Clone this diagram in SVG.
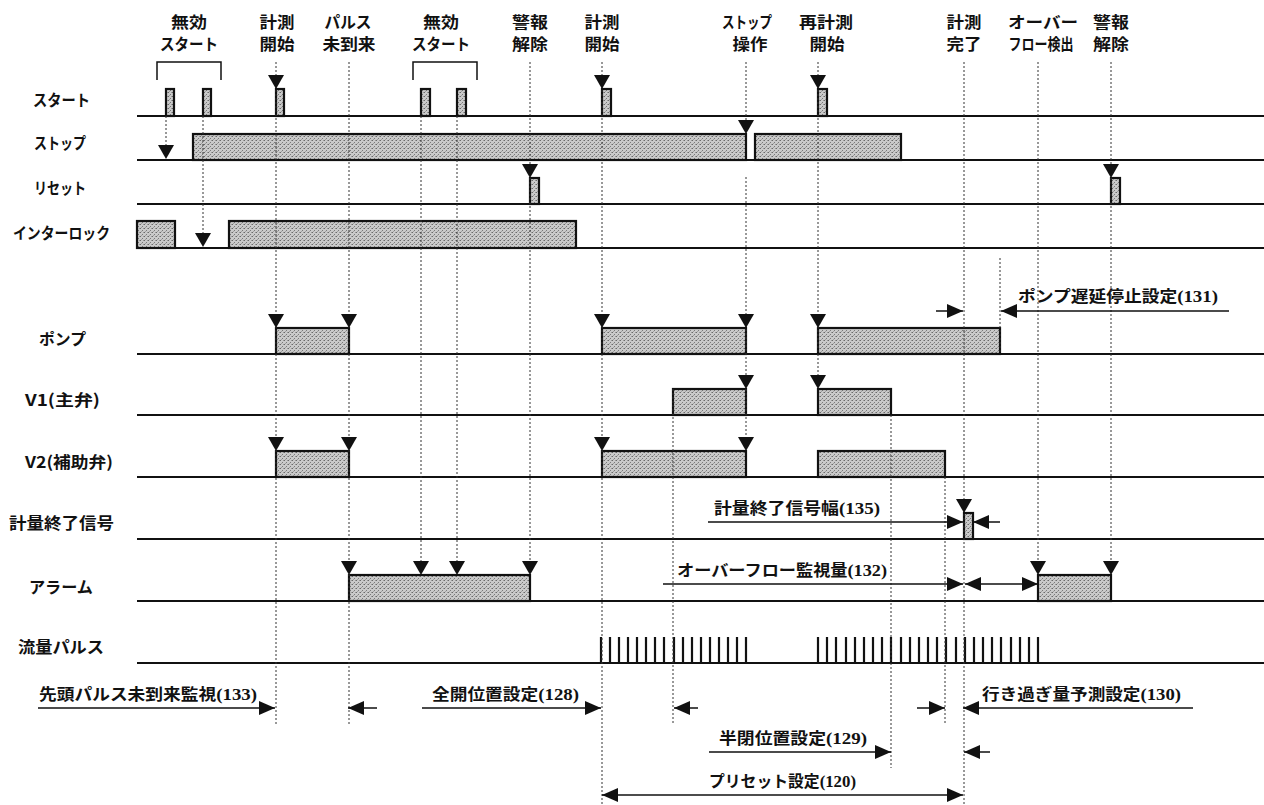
<svg xmlns="http://www.w3.org/2000/svg" xmlns:xlink="http://www.w3.org/1999/xlink" width="1264" height="805" viewBox="0 0 1264 805">
<style>
text { font-family: "Noto Sans CJK JP", "Noto Sans", sans-serif; font-weight: 700; fill: #111; }
.lbl { font-size: 16px; }
.top { font-size: 16px; text-anchor: middle; }
.ann { font-size: 16px; }
.num { font-family: "Liberation Serif", "Noto Sans CJK JP", serif; font-size: 17px; font-weight: 700; }
.base { stroke: #111; stroke-width: 2; fill: none; }
.bar { fill: url(#dots); stroke: #111; stroke-width: 2.2; }
.dot { stroke: #333; stroke-width: 1; stroke-dasharray: 2 2; fill: none; }
.ln { stroke: #111; stroke-width: 1.5; fill: none; }
.pl { stroke: #111; stroke-width: 2.2; fill: none; }
.ah { fill: #111; }
</style>
<defs>
<pattern id="dots" width="4" height="4" patternUnits="userSpaceOnUse">
<rect width="4" height="4" fill="#cacaca"/>
<rect x="0" y="0" width="1" height="1" fill="#6a6a6a"/>
<rect x="2" y="2" width="1" height="1" fill="#7a7a7a"/>
<rect x="3" y="0" width="1" height="1" fill="#999"/>
<rect x="1" y="3" width="1" height="1" fill="#a0a0a0"/>
</pattern>
<path id="ad" class="ah" d="M-8,-14 L8,-14 L0,0 Z"/>
<path id="ar" class="ah" d="M-16,-7 L0,0 L-16,7 Z"/>
<path id="al" class="ah" d="M16,-7 L0,0 L16,7 Z"/>
</defs>
<rect width="1264" height="805" fill="#fff"/>

<!-- event labels -->
<g id="ev-invalid-start-1"><text class="top" x="189" y="28" textLength="36" lengthAdjust="spacingAndGlyphs">無効</text><text class="top" x="189" y="50" textLength="58" lengthAdjust="spacingAndGlyphs">スタート</text>
<path class="ln" d="M157,80 V62 H221 V80"/></g>
<g id="ev-measure-start-1"><text class="top" x="277" y="28" textLength="35" lengthAdjust="spacingAndGlyphs">計測</text><text class="top" x="277" y="50" textLength="35" lengthAdjust="spacingAndGlyphs">開始</text></g>
<g id="ev-pulse-missing"><text class="top" x="348" y="28" textLength="47" lengthAdjust="spacingAndGlyphs">パルス</text><text class="top" x="349" y="50" textLength="53" lengthAdjust="spacingAndGlyphs">未到来</text></g>
<g id="ev-invalid-start-2"><text class="top" x="441" y="28" textLength="36" lengthAdjust="spacingAndGlyphs">無効</text><text class="top" x="441" y="50" textLength="58" lengthAdjust="spacingAndGlyphs">スタート</text>
<path class="ln" d="M413,80 V62 H477 V80"/></g>
<g id="ev-alarm-reset-1"><text class="top" x="530" y="28" textLength="36" lengthAdjust="spacingAndGlyphs">警報</text><text class="top" x="530" y="50" textLength="36" lengthAdjust="spacingAndGlyphs">解除</text></g>
<g id="ev-measure-start-2"><text class="top" x="602" y="28" textLength="35" lengthAdjust="spacingAndGlyphs">計測</text><text class="top" x="602" y="50" textLength="35" lengthAdjust="spacingAndGlyphs">開始</text></g>
<g id="ev-stop-op"><text class="top" x="747" y="28" textLength="50" lengthAdjust="spacingAndGlyphs">ストップ</text><text class="top" x="750" y="50" textLength="35" lengthAdjust="spacingAndGlyphs">操作</text></g>
<g id="ev-remeasure"><text class="top" x="826" y="28" textLength="54" lengthAdjust="spacingAndGlyphs">再計測</text><text class="top" x="827" y="50" textLength="35" lengthAdjust="spacingAndGlyphs">開始</text></g>
<g id="ev-measure-done"><text class="top" x="964" y="28" textLength="35" lengthAdjust="spacingAndGlyphs">計測</text><text class="top" x="964" y="50" textLength="35" lengthAdjust="spacingAndGlyphs">完了</text></g>
<g id="ev-overflow"><text class="top" x="1043" y="28" textLength="70" lengthAdjust="spacingAndGlyphs">オーバー</text><text class="top" x="1041" y="50" textLength="65" lengthAdjust="spacingAndGlyphs">フロー検出</text></g>
<g id="ev-alarm-reset-2"><text class="top" x="1111" y="28" textLength="36" lengthAdjust="spacingAndGlyphs">警報</text><text class="top" x="1111" y="50" textLength="36" lengthAdjust="spacingAndGlyphs">解除</text></g>

<!-- signal rows -->
<g id="sig-start">
<text class="lbl" x="33" y="106" textLength="57" lengthAdjust="spacingAndGlyphs">スタート</text>
<path class="base" d="M137,116 H1264"/>
<rect class="bar" x="166" y="89" width="8" height="27"/>
<rect class="bar" x="203" y="89" width="8" height="27"/>
<rect class="bar" x="276" y="89" width="8" height="27"/>
<rect class="bar" x="421" y="89" width="9" height="27"/>
<rect class="bar" x="457" y="89" width="9" height="27"/>
<rect class="bar" x="602" y="89" width="9" height="27"/>
<rect class="bar" x="818" y="89" width="9" height="27"/>
</g>
<g id="sig-stop">
<text class="lbl" x="34" y="149" textLength="52" lengthAdjust="spacingAndGlyphs">ストップ</text>
<path class="base" d="M137,160 H1264"/>
<rect class="bar" x="193" y="134" width="553" height="26"/>
<rect class="bar" x="755" y="134" width="146" height="26"/>
</g>
<g id="sig-reset">
<text class="lbl" x="34" y="194" textLength="52" lengthAdjust="spacingAndGlyphs">リセット</text>
<path class="base" d="M137,204 H1264"/>
<rect class="bar" x="530" y="178" width="9" height="26"/>
<rect class="bar" x="1111" y="178" width="9" height="26"/>
</g>
<g id="sig-interlock">
<text class="lbl" x="13" y="239" textLength="97" lengthAdjust="spacingAndGlyphs">インターロック</text>
<path class="base" d="M137,248 H1264"/>
<rect class="bar" x="137" y="221" width="38" height="27"/>
<rect class="bar" x="229" y="221" width="347" height="27"/>
</g>
<g id="sig-pump">
<text class="lbl" x="39" y="345" textLength="47" lengthAdjust="spacingAndGlyphs">ポンプ</text>
<path class="base" d="M137,354 H1264"/>
<rect class="bar" x="276" y="328" width="73" height="26"/>
<rect class="bar" x="602" y="328" width="144" height="26"/>
<rect class="bar" x="818" y="328" width="182" height="26"/>
</g>
<g id="sig-v1">
<text class="lbl" x="25" y="406" textLength="75" lengthAdjust="spacingAndGlyphs">V1(主弁)</text>
<path class="base" d="M137,415 H1264"/>
<rect class="bar" x="673" y="389" width="73" height="26"/>
<rect class="bar" x="818" y="389" width="73" height="26"/>
</g>
<g id="sig-v2">
<text class="lbl" x="25" y="468" textLength="88" lengthAdjust="spacingAndGlyphs">V2(補助弁)</text>
<path class="base" d="M137,477 H1264"/>
<rect class="bar" x="276" y="451" width="73" height="26"/>
<rect class="bar" x="602" y="451" width="144" height="26"/>
<rect class="bar" x="818" y="451" width="127" height="26"/>
</g>
<g id="sig-end">
<text class="lbl" x="9" y="529" textLength="105" lengthAdjust="spacingAndGlyphs">計量終了信号</text>
<path class="base" d="M137,539 H1264"/>
<rect class="bar" x="964" y="513" width="9" height="26"/>
</g>
<g id="sig-alarm">
<text class="lbl" x="29" y="593" textLength="64" lengthAdjust="spacingAndGlyphs">アラーム</text>
<path class="base" d="M137,601 H1264"/>
<rect class="bar" x="349" y="575" width="181" height="26"/>
<rect class="bar" x="1038" y="575" width="73" height="26"/>
</g>
<g id="sig-flow">
<text class="lbl" x="18" y="653" textLength="86" lengthAdjust="spacingAndGlyphs">流量パルス</text>
<path class="base" d="M137,663 H1264"/>
<path class="pl" d="M601,637V663M610,637V663M619,637V663M628,637V663M637,637V663M646,637V663M655,637V663M664,637V663M674,637V663M683,637V663M692,637V663M701,637V663M710,637V663M719,637V663M728,637V663M737,637V663M746,637V663"/>
<path class="pl" d="M818,637V663M827,637V663M836,637V663M846,637V663M855,637V663M864,637V663M873,637V663M882,637V663M891,637V663M901,637V663M910,637V663M919,637V663M928,637V663M937,637V663M946,637V663M956,637V663M965,637V663M974,637V663M983,637V663M992,637V663M1001,637V663M1011,637V663M1020,637V663M1029,637V663M1038,637V663"/>
</g>

<!-- setting annotations -->
<g id="set-131"><text class="ann" x="1018" y="302" textLength="200" lengthAdjust="spacingAndGlyphs">ポンプ遅延停止設定<tspan class="num">(131)</tspan></text></g>
<g id="set-135"><text class="ann" x="714" y="514" textLength="166" lengthAdjust="spacingAndGlyphs">計量終了信号幅<tspan class="num">(135)</tspan></text></g>
<g id="set-132"><text class="ann" x="677" y="576" textLength="210" lengthAdjust="spacingAndGlyphs">オーバーフロー監視量<tspan class="num">(132)</tspan></text></g>
<g id="set-133"><text class="ann" x="39" y="700" textLength="218" lengthAdjust="spacingAndGlyphs">先頭パルス未到来監視<tspan class="num">(133)</tspan></text></g>
<g id="set-128"><text class="ann" x="432" y="700" textLength="147" lengthAdjust="spacingAndGlyphs">全開位置設定<tspan class="num">(128)</tspan></text></g>
<g id="set-130"><text class="ann" x="982" y="700" textLength="199" lengthAdjust="spacingAndGlyphs">行き過ぎ量予測設定<tspan class="num">(130)</tspan></text></g>
<g id="set-129"><text class="ann" x="719" y="744" textLength="148" lengthAdjust="spacingAndGlyphs">半閉位置設定<tspan class="num">(129)</tspan></text></g>
<g id="set-120"><text class="ann" x="709" y="787" textLength="147" lengthAdjust="spacingAndGlyphs">プリセット設定<tspan class="num">(120)</tspan></text></g>

<!-- connectors -->
<g id="connectors">
<path class="dot" d="M166,116V148 M203,116V236 M276,62V725 M349,62V725 M421,116V564 M457,116V564 M530,62V564 M602,62V805 M673,389V725 M746,62V122 M746,177V440 M818,62V378 M891,415V768 M945,477V725 M964,62V805 M1000,258V354 M1038,62V564 M1111,62V564"/>
<use href="#ad" x="166" y="159"/>
<use href="#ad" x="203" y="247"/>
<use href="#ad" x="276" y="89"/>
<use href="#ad" x="602" y="89"/>
<use href="#ad" x="818" y="89"/>
<use href="#ad" x="746" y="134"/>
<use href="#ad" x="530" y="178"/>
<use href="#ad" x="1111" y="178"/>
<use href="#ad" x="276" y="328"/>
<use href="#ad" x="349" y="328"/>
<use href="#ad" x="602" y="328"/>
<use href="#ad" x="746" y="328"/>
<use href="#ad" x="818" y="328"/>
<use href="#ad" x="746" y="389"/>
<use href="#ad" x="818" y="389"/>
<use href="#ad" x="276" y="451"/>
<use href="#ad" x="349" y="451"/>
<use href="#ad" x="602" y="451"/>
<use href="#ad" x="746" y="451"/>
<use href="#ad" x="964" y="513"/>
<use href="#ad" x="349" y="575"/>
<use href="#ad" x="421" y="575"/>
<use href="#ad" x="457" y="575"/>
<use href="#ad" x="530" y="575"/>
<use href="#ad" x="1038" y="575"/>
<use href="#ad" x="1111" y="575"/>

<path class="ln" d="M936,311H963 M1001,311H1229"/>
<use href="#ar" x="963" y="311"/><use href="#al" x="1001" y="311"/>

<path class="ln" d="M708,522H963 M973,522H1000"/>
<use href="#ar" x="963" y="522"/><use href="#al" x="973" y="522"/>

<path class="ln" d="M663,584H963 M965,584H1038"/>
<use href="#ar" x="963" y="584"/><use href="#al" x="965" y="584"/><use href="#ar" x="1038" y="584"/>

<path class="ln" d="M38,708H275 M348,708H377"/>
<use href="#ar" x="275" y="708"/><use href="#al" x="348" y="708"/>

<path class="ln" d="M422,708H601 M674,708H698"/>
<use href="#ar" x="601" y="708"/><use href="#al" x="674" y="708"/>

<path class="ln" d="M917,708H945 M963,708H1193"/>
<use href="#ar" x="945" y="708"/><use href="#al" x="963" y="708"/>

<path class="ln" d="M709,752H891 M964,752H990"/>
<use href="#ar" x="891" y="752"/><use href="#al" x="964" y="752"/>

<path class="ln" d="M602,795H963"/>
<use href="#al" x="602" y="795"/><use href="#ar" x="963" y="795"/>
</g>
</svg>
